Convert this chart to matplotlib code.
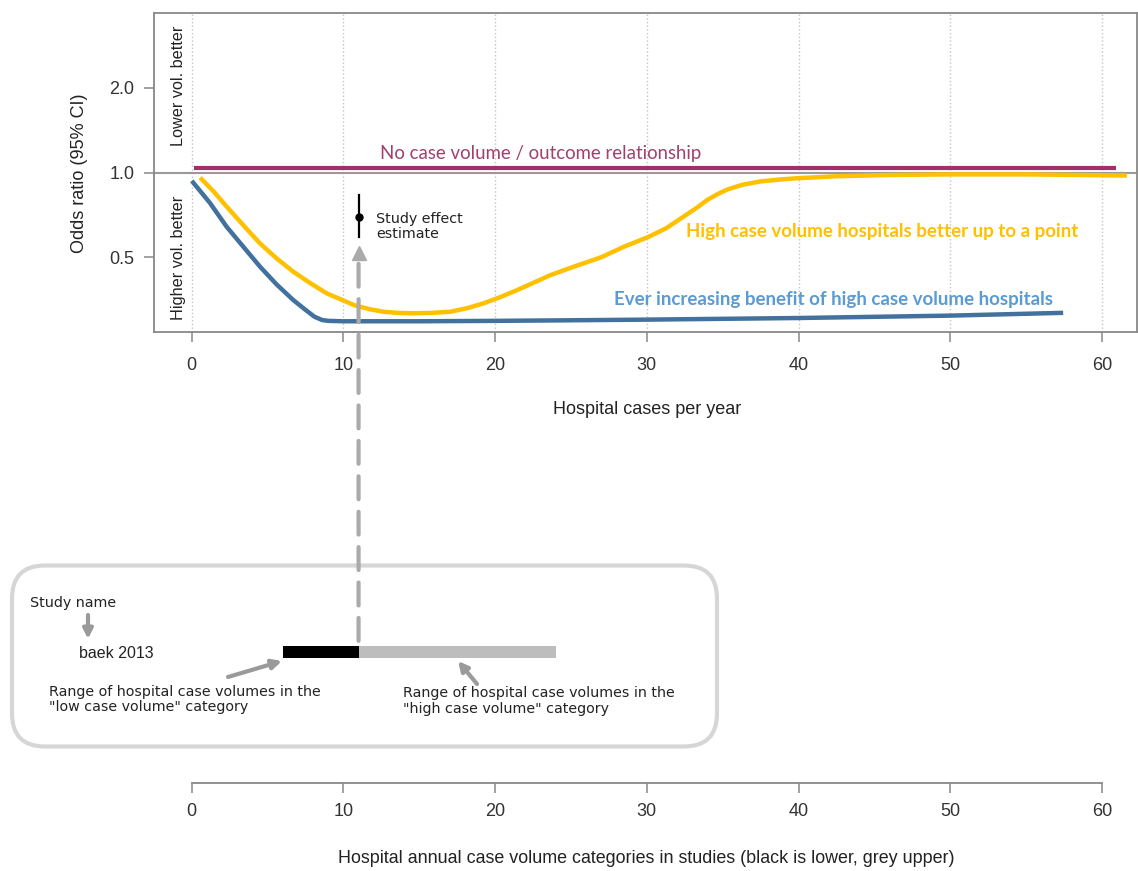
import matplotlib
matplotlib.use('Agg')
import matplotlib.pyplot as plt
from matplotlib.patches import FancyBboxPatch, ConnectionPatch, FancyArrowPatch
from matplotlib.transforms import IdentityTransform
from matplotlib.ticker import NullLocator

W, H, DPI = 1138, 871, 100

# ---------------- data ----------------
x_ticks = [0, 10, 20, 30, 40, 50, 60]
y_ticks = [0.5, 1.0, 2.0]
y_tick_labels = ['0.5', '1.0', '2.0']

none_x = [0.15, 60.9]
none_y = [1.042, 1.042]

point_x = [0.66, 1.5, 2.3, 3.4, 4.5, 5.6, 6.7, 7.8, 8.9, 10.7, 11.7, 12.65, 13.6, 14.6,
           15.8, 17.05, 18.2, 19.25, 20.3, 21.45, 22.5, 23.65, 25.3, 27.0, 28.5, 30.1,
           31.3, 32.3, 33.3, 34.0, 34.7, 35.3, 36.3, 37.5, 38.8, 40.0, 42.5, 45.9,
           50.0, 55.0, 61.5]
point_y = [0.947, 0.85, 0.757, 0.65, 0.56, 0.495, 0.444, 0.405, 0.372, 0.338, 0.327,
           0.32, 0.317, 0.316, 0.317, 0.32, 0.33, 0.343, 0.36, 0.382, 0.405, 0.432,
           0.465, 0.50, 0.545, 0.59, 0.635, 0.69, 0.75, 0.80, 0.84, 0.87, 0.905, 0.93,
           0.945, 0.955, 0.97, 0.98, 0.985, 0.985, 0.976]

ever_x = [0.1, 1.2, 2.3, 3.4, 4.5, 5.6, 6.7, 7.5, 8.1, 8.6, 9.0, 10.0, 15.0, 20.0,
          23.65, 30.0, 40.0, 50.0, 57.3]
ever_y = [0.921, 0.78, 0.642, 0.545, 0.463, 0.40, 0.352, 0.325, 0.307, 0.299, 0.297,
          0.296, 0.296, 0.297, 0.298, 0.300, 0.304, 0.310, 0.317]

study_name = 'baek 2013'
study_x = 11
study_or = 0.697
study_lo = 0.589
study_hi = 0.833
low_range = [6, 11]
high_range = [11, 24]

# ---------------- helpers ----------------
def fx(px):
    return px / W

def fy(py):
    return 1 - py / H

XPX0, XSCALE = 191.7, 15.17
xlim = ((154 - XPX0) / XSCALE, (1137 - XPX0) / XSCALE)

R_FONT = 'Liberation Sans'
NOTE_FONT = 'DejaVu Sans'
LABEL_FONT = 'Lato'
AXCOL = '#888888'
TXTCOL = '#333333'
NOTE_SIZE = 10.3

fig = plt.figure(figsize=(W / DPI, H / DPI), dpi=DPI)

# ---------------- top axes ----------------
ax = fig.add_axes([fx(154), fy(332.5), (1137 - 154) / W, (332.5 - 12.7) / H])
ax.set_yscale('log', base=2)
ax.set_xlim(*xlim)
ax.set_ylim(0.27, 3.7)
ax.set_xticks(x_ticks)
ax.set_xticklabels([str(t) for t in x_ticks])
ax.set_yticks(y_ticks)
ax.set_yticklabels(y_tick_labels)
ax.yaxis.set_minor_locator(NullLocator())
for s in ax.spines.values():
    s.set_color(AXCOL)
    s.set_linewidth(1.3)
ax.tick_params(axis='both', colors=AXCOL, length=7.5, width=1.1, labelcolor=TXTCOL)
ax.tick_params(axis='x', pad=10, labelsize=13)
ax.tick_params(axis='y', pad=6.5, labelsize=13)
for lab in ax.get_xticklabels() + ax.get_yticklabels():
    lab.set_family(R_FONT)
ax.xaxis.grid(True, linestyle=':', color='#c4c4c4', linewidth=1)
ax.set_axisbelow(True)

ax.axhline(1.0, color='#9a9a9a', lw=1.5, zorder=1)

ax.plot(none_x, none_y, color='#A0306A', lw=3, solid_capstyle='butt', zorder=3)
ax.plot(point_x, point_y, color='#FFC000', lw=3.2, zorder=3)
ax.plot(ever_x, ever_y, color='#41719C', lw=3.2, zorder=3)

ax.plot([study_x, study_x], [study_lo, study_hi], color='black', lw=1.6, zorder=4)
ax.plot([study_x], [study_or], 'o', color='black', ms=5, zorder=5)
ax.text(12.15, 0.643, 'Study effect\nestimate', ha='left', va='center', fontsize=NOTE_SIZE,
        family=NOTE_FONT, color='#222222', linespacing=1.15)

ax.text(-0.9, 2.04, 'Lower vol. better', rotation=90, ha='center', va='center',
        fontsize=11.7, family=R_FONT, color='#222222')
ax.text(-0.9, 0.497, 'Higher vol. better', rotation=90, ha='center', va='center',
        fontsize=11.7, family=R_FONT, color='#222222')

ax.text(23.03, 1.166, 'No case volume / outcome relationship', ha='center', va='center',
        fontsize=13.4, family=LABEL_FONT, color='#A0406E')
ax.text(32.58, 0.617, 'High case volume hospitals better up to a point', ha='left',
        va='center', fontsize=13.5, family=LABEL_FONT, weight='bold', color='#FFC000')
ax.text(27.87, 0.355, 'Ever increasing benefit of high case volume hospitals', ha='left',
        va='center', fontsize=13.5, family=LABEL_FONT, weight='bold', color='#5B9BD5')

# arrowhead of dashed pointer
ax.plot([study_x], [0.518], marker='^', ms=10, color='#aaaaaa', clip_on=False, zorder=4)

fig.text(fx(647), fy(410), 'Hospital cases per year', ha='center', va='center',
         fontsize=13, family=R_FONT, color='#222222')
fig.text(fx(80), fy(173), 'Odds ratio (95% CI)', rotation=90, ha='center', va='center',
         fontsize=13, family=R_FONT, color='#222222')

# ---------------- bottom axes ----------------
ax2 = fig.add_axes([fx(154), fy(783), (1137 - 154) / W, (783 - 566) / H])
ax2.set_xlim(*xlim)
ax2.set_ylim(0, 1)
ax2.patch.set_visible(False)
for k in ['left', 'right', 'top']:
    ax2.spines[k].set_visible(False)
ax2.spines['bottom'].set_bounds(x_ticks[0], x_ticks[-1])
ax2.spines['bottom'].set_color(AXCOL)
ax2.spines['bottom'].set_linewidth(1.3)
ax2.set_yticks([])
ax2.set_xticks(x_ticks)
ax2.set_xticklabels([str(t) for t in x_ticks])
ax2.tick_params(axis='x', colors=AXCOL, length=7.5, width=1.1, labelcolor=TXTCOL,
                pad=7, labelsize=13)
for lab in ax2.get_xticklabels():
    lab.set_family(R_FONT)

bar_y, bar_h = 0.6037, 0.0553
ax2.barh(bar_y, low_range[1] - low_range[0], left=low_range[0], height=bar_h,
         color='black', zorder=3)
ax2.barh(bar_y, high_range[1] - high_range[0], left=high_range[0], height=bar_h,
         color='#bdbdbd', zorder=3)

fig.text(fx(646), fy(858.7), 'Hospital annual case volume categories in studies (black is lower, grey upper)',
         ha='center', va='center', fontsize=12.9, family=R_FONT, color='#222222')

# dashed pointer from study bar to effect estimate
con = ConnectionPatch(xyA=(study_x, 0.655), coordsA=ax2.transData,
                      xyB=(study_x, 0.49), coordsB=ax.transData,
                      color='#aaaaaa', lw=3, linestyle=(0, (5.5, 3)), zorder=2)
fig.add_artist(con)

# ---------------- explanatory box ----------------
box = FancyBboxPatch((12, H - 746.5), 705, 181,
                     boxstyle='round,pad=0,rounding_size=33',
                     transform=IdentityTransform(), fill=False,
                     edgecolor='#d6d6d6', linewidth=3)
fig.add_artist(box)

fig.text(fx(30), fy(603), 'Study name', ha='left', va='center', fontsize=NOTE_SIZE,
         family=NOTE_FONT, color='#222222')
fig.text(fx(79), fy(653), study_name, ha='left', va='center', fontsize=11.5,
         family=R_FONT, color='#222222')
fig.text(fx(49), fy(699.5), 'Range of hospital case volumes in the\n"low case volume" category',
         ha='left', va='center', fontsize=NOTE_SIZE, family=NOTE_FONT, color='#222222',
         linespacing=1.15)
fig.text(fx(403), fy(701), 'Range of hospital case volumes in the\n"high case volume" category',
         ha='left', va='center', fontsize=NOTE_SIZE, family=NOTE_FONT, color='#222222',
         linespacing=1.15)

arrow_kw = dict(arrowstyle='-|>', color='#9a9a9a', lw=3, mutation_scale=14,
                shrinkA=0, shrinkB=0)
for (x0, y0), (x1, y1) in [((88, 615), (88, 639)), ((228, 677), (282, 661)),
                           ((477, 684), (458, 661))]:
    fig.add_artist(FancyArrowPatch((x0, H - y0), (x1, H - y1),
                                   transform=IdentityTransform(), **arrow_kw))

fig.savefig('out.png', dpi=DPI)
